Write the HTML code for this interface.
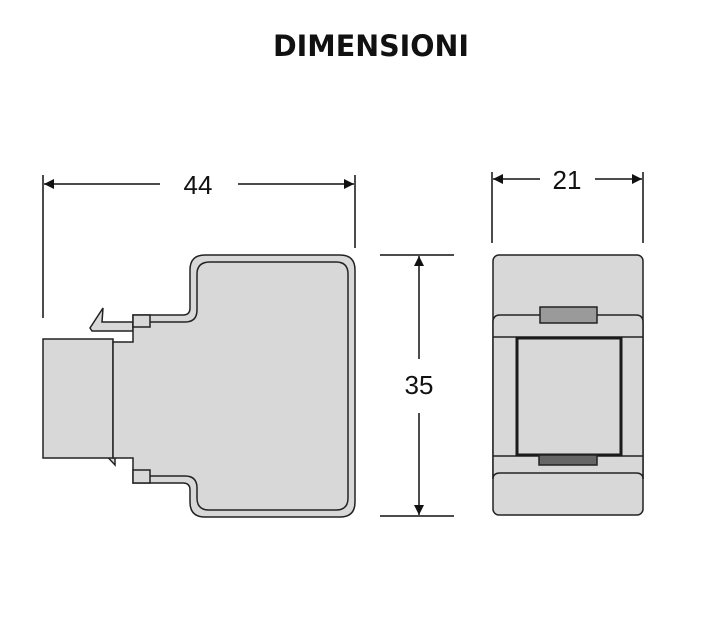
<!DOCTYPE html>
<html><head><style>html,body{margin:0;padding:0;background:#fff;width:708px;height:618px;overflow:hidden}</style></head>
<body>
<svg width="708" height="618" viewBox="0 0 708 618" xmlns="http://www.w3.org/2000/svg">
<defs>
<marker id="a" viewBox="0 0 10 10" refX="10" refY="5" markerWidth="10" markerHeight="10" markerUnits="userSpaceOnUse" orient="auto"><path d="M0,0 L10,5 L0,10 z" fill="#111"/></marker>
</defs>
<text x="371" y="56" font-family="DejaVu Sans, sans-serif" font-weight="bold" font-size="29" text-anchor="middle" textLength="196" lengthAdjust="spacingAndGlyphs" fill="#111">DIMENSIONI</text>

<!-- 44 dimension -->
<g stroke="#111" stroke-width="1.5">
<line x1="43" y1="175" x2="43" y2="318"/>
<line x1="355" y1="175" x2="355" y2="248"/>
<line x1="160" y1="184" x2="44" y2="184" marker-end="url(#a)"/>
<line x1="238" y1="184" x2="354" y2="184" marker-end="url(#a)"/>
<line x1="492" y1="172" x2="492" y2="243"/>
<line x1="643" y1="172" x2="643" y2="243"/>
<line x1="540" y1="179" x2="493" y2="179" marker-end="url(#a)"/>
<line x1="595" y1="179" x2="642" y2="179" marker-end="url(#a)"/>
<line x1="380" y1="255" x2="454" y2="255"/>
<line x1="380" y1="516" x2="454" y2="516"/>
<line x1="419" y1="359" x2="419" y2="256" marker-end="url(#a)"/>
<line x1="419" y1="413" x2="419" y2="515" marker-end="url(#a)"/>
</g>
<g font-family="Liberation Sans, sans-serif" font-size="26" fill="#111" text-anchor="middle">
<text x="198" y="194">44</text>
<text x="567" y="189">21</text>
<text x="419" y="394">35</text>
</g>

<!-- left view -->
<g stroke="#222" stroke-width="1.5" fill="#d8d8d8">
<path d="M92,331 L90,328 L103,308 L102,322 L133,322 L133,331 Z"/>
<path d="M103,452 L115,452 L115,465 Z"/>
<rect x="43" y="339" width="70" height="119"/>
<path d="M205,255 H340 Q355,255 355,270 V502 Q355,517 340,517 H205 Q190,517 190,502 V490 Q190,483 183,483 H133 V458 H113 V342 H133 V315 H183 Q190,315 190,308 V270 Q190,255 205,255 Z"/>
<path d="M210,262 H336 Q348,262 348,274 V498 Q348,510 336,510 H209 Q197,510 197,498 V488 Q197,476 185,476 H150 M150,322 H185 Q197,322 197,310 V274 Q197,262 210,262" fill="none"/>
<rect x="133" y="315" width="17" height="12"/>
<rect x="133" y="470" width="17" height="13"/>
</g>

<!-- right view -->
<g stroke="#222" stroke-width="1.5" fill="#d8d8d8">
<rect x="493" y="255" width="150" height="260" rx="6"/>
<path d="M493,479 V322 Q493,315 500,315 H636 Q643,315 643,322 V479" />
<path d="M493,479 Q493,473 500,473 H636 Q643,473 643,479" fill="none"/>
<line x1="493" y1="337" x2="643" y2="337"/>
<line x1="493" y1="456" x2="643" y2="456"/>
<rect x="517" y="338" width="104" height="117" stroke="#1a1a1a" stroke-width="3"/>
<rect x="540" y="307" width="57" height="16" fill="#9a9a9a"/>
<rect x="539" y="455" width="58" height="10" fill="#666"/>
</g>
</svg>
</body></html>
